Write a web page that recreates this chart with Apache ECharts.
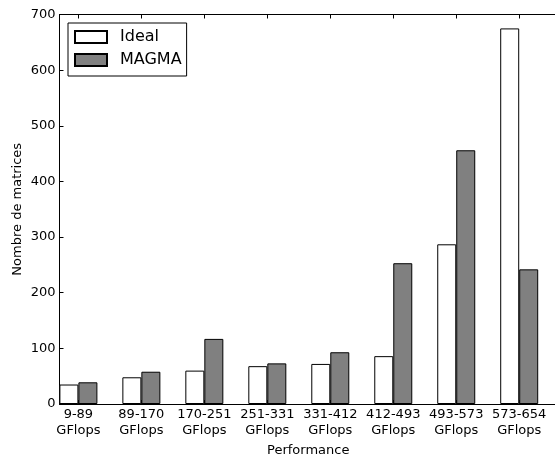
<!DOCTYPE html>
<html>
<head>
<meta charset="utf-8">
<script src="https://cdn.jsdelivr.net/npm/echarts@6/dist/echarts.min.js"></script>
<style>html,body{margin:0;padding:0;background:#fff}#c{width:555px;height:458px}</style>
</head>
<body>
<div id="c"></div>
<script>
const categories = ['9-89\nGFlops','89-170\nGFlops','170-251\nGFlops','251-331\nGFlops','331-412\nGFlops','412-493\nGFlops','493-573\nGFlops','573-654\nGFlops'];
const ideal = [35, 48, 60, 68, 72, 86, 287, 675];
const magma = [39, 58, 117, 73, 93, 253, 456, 242];
const yTicks = [0, 100, 200, 300, 400, 500, 600, 700];

const positions = categories.map((c, i) => i);
const font = 'DejaVu Sans';
const chart = echarts.init(document.getElementById('c'), null, {renderer: 'canvas'});
chart.setOption({
  animation: false,
  backgroundColor: '#fff',
  textStyle: {fontFamily: font, color: '#000'},
  grid: {left: 59.5, top: 14.5, bottom: 54, right: -2, outerBoundsMode: 'none', containLabel: false},
  legend: {
    left: 68, top: 23, orient: 'vertical',
    itemWidth: 32, itemHeight: 12, itemGap: 7,
    padding: [6, 5, 8, 6],
    borderColor: '#000', borderWidth: 1, borderRadius: 0,
    icon: 'rect',
    textStyle: {fontFamily: font, fontSize: 16, lineHeight: 16, color: '#000', padding: [0, 0, 0, 8]},
    data: ['Ideal', 'MAGMA']
  },
  xAxis: [{
    type: 'value', min: -0.3, max: 7.6, position: 'bottom',
    name: 'Performance', nameLocation: 'middle', nameGap: 38,
    nameTextStyle: {fontFamily: font, fontSize: 13, color: '#000'},
    axisLine: {show: true, onZero: false, lineStyle: {color: '#000', width: 1}},
    axisTick: {show: true, inside: true, length: 4, customValues: positions, lineStyle: {color: '#000'}},
    axisLabel: {customValues: positions, fontFamily: font, fontSize: 13, color: '#000', lineHeight: 16, margin: 3,
      formatter: v => categories[Math.round(v)] || ''},
    splitLine: {show: false}
  }, {
    type: 'value', min: -0.3, max: 7.6, position: 'top',
    axisLine: {show: true, onZero: false, lineStyle: {color: '#000', width: 1}},
    axisTick: {show: true, inside: true, length: 4, customValues: positions, lineStyle: {color: '#000'}},
    axisLabel: {show: false},
    splitLine: {show: false}
  }],
  yAxis: {
    type: 'value', min: 0, max: 700, interval: 100,
    name: 'Nombre de matrices', nameLocation: 'middle', nameGap: 35, nameMoveOverlap: false,
    nameTextStyle: {fontFamily: font, fontSize: 13, color: '#000'},
    axisLine: {show: true, onZero: false, lineStyle: {color: '#000', width: 1}},
    axisTick: {show: true, inside: true, length: 4, lineStyle: {color: '#000'}},
    axisLabel: {fontFamily: font, fontSize: 13, color: '#000', margin: 4},
    splitLine: {show: false}
  },
  series: [{
    name: 'Ideal', type: 'bar', barWidth: 19, barGap: '0%',
    itemStyle: {color: '#ffffff', borderColor: '#000', borderWidth: 1},
    data: positions.map(i => [i, ideal[i]])
  }, {
    name: 'MAGMA', type: 'bar', barWidth: 19, barGap: '0%',
    itemStyle: {color: '#808080', borderColor: '#000', borderWidth: 1},
    data: positions.map(i => [i, magma[i]])
  }]
});
</script>
</body>
</html>
